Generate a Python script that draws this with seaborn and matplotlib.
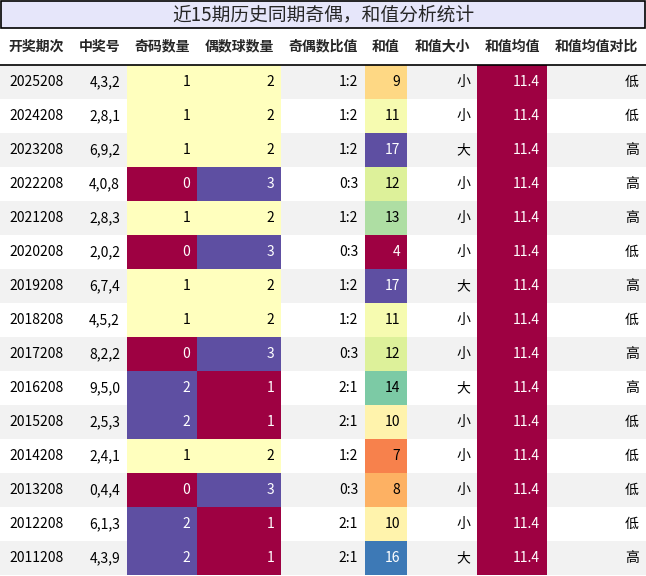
import matplotlib.pyplot as plt
import matplotlib.colors as mcolors
from matplotlib.patches import Rectangle
import seaborn as sns

sns.set_theme(style="white")
plt.rcParams['font.family'] = ['Noto Sans CJK SC', 'DejaVu Sans']

# --------------------
# data
# --------------------
title = '近15期历史同期奇偶，和值分析统计'
headers = ['开奖期次', '中奖号', '奇码数量', '偶数球数量', '奇偶数比值', '和值', '和值大小', '和值均值', '和值均值对比']
periods = ['2025208', '2024208', '2023208', '2022208', '2021208', '2020208', '2019208', '2018208',
           '2017208', '2016208', '2015208', '2014208', '2013208', '2012208', '2011208']
numbers = ['4,3,2', '2,8,1', '6,9,2', '4,0,8', '2,8,3', '2,0,2', '6,7,4', '4,5,2',
           '8,2,2', '9,5,0', '2,5,3', '2,4,1', '0,4,4', '6,1,3', '4,3,9']
odd_cnt = [1, 1, 1, 0, 1, 0, 1, 1, 0, 2, 2, 1, 0, 2, 2]
even_cnt = [2, 2, 2, 3, 2, 3, 2, 2, 3, 1, 1, 2, 3, 1, 1]
ratio = ['1:2', '1:2', '1:2', '0:3', '1:2', '0:3', '1:2', '1:2', '0:3', '2:1', '2:1', '1:2', '0:3', '2:1', '2:1']
sums = [9, 11, 17, 12, 13, 4, 17, 11, 12, 14, 10, 7, 8, 10, 16]
size = ['小', '小', '大', '小', '小', '小', '大', '小', '小', '大', '小', '小', '小', '小', '大']
mean_val = [11.4] * 15
compare = ['低', '低', '高', '高', '高', '低', '高', '低', '高', '高', '低', '低', '低', '低', '高']

# layout in pixels
W, H = 646, 576
col_edges = [0, 72, 127, 197, 281, 365, 407, 477, 547, 646]
title_h, head_h, row_h = 28, 37, 34

cmap = sns.color_palette("Spectral", as_cmap=True)

def col_colors(vals):
    lo, hi = min(vals), max(vals)
    if hi == lo:
        return [cmap(0.0)] * len(vals)
    norm = mcolors.Normalize(lo, hi)
    return [cmap(norm(v)) for v in vals]

columns = [periods, numbers, odd_cnt, even_cnt, ratio, sums, size, mean_val, compare]
colored = {2: col_colors(odd_cnt), 3: col_colors(even_cnt), 5: col_colors(sums), 7: col_colors(mean_val)}

fig = plt.figure(figsize=(W / 100, H / 100), dpi=100)
ax = fig.add_axes([0, 0, 1, 1])
ax.set_xlim(0, W)
ax.set_ylim(H, 0)
ax.axis('off')

# title bar
ax.add_patch(Rectangle((1, 1), W - 2, title_h - 1, facecolor='#e6e6fa', edgecolor='black', lw=1.2))
ax.text(W / 2, title_h / 2 + 1, title, ha='center', va='center', fontsize=13.5)

# header
for j, h in enumerate(headers):
    xc = (col_edges[j] + col_edges[j + 1]) / 2
    ax.text(xc, title_h + head_h / 2, h, ha='center', va='center', fontsize=10, fontweight='bold')
ax.plot([0, W], [title_h + head_h, title_h + head_h], color='black', lw=1.2)

# body
for i in range(len(periods)):
    y0 = title_h + head_h + i * row_h
    bg = '#f2f2f2' if i % 2 == 0 else 'white'
    ax.add_patch(Rectangle((0, y0), W, row_h, facecolor=bg, edgecolor='none'))
    for j, col in enumerate(columns):
        x0, x1 = col_edges[j], col_edges[j + 1]
        tc = 'black'
        if j in colored:
            c = colored[j][i]
            ax.add_patch(Rectangle((x0, y0), x1 - x0, row_h, facecolor=c, edgecolor='none'))
            lum = 0.299 * c[0] + 0.587 * c[1] + 0.114 * c[2]
            tc = 'white' if lum < 0.5 else 'black'
        v = col[i]
        txt = f'{v:.1f}' if isinstance(v, float) else str(v)
        if j == 0:
            ax.text(x0 + 9, y0 + row_h / 2, txt, ha='left', va='center', fontsize=10, color=tc)
        else:
            ax.text(x1 - 7, y0 + row_h / 2, txt, ha='right', va='center', fontsize=10, color=tc)

fig.savefig('out.png', dpi=100)
